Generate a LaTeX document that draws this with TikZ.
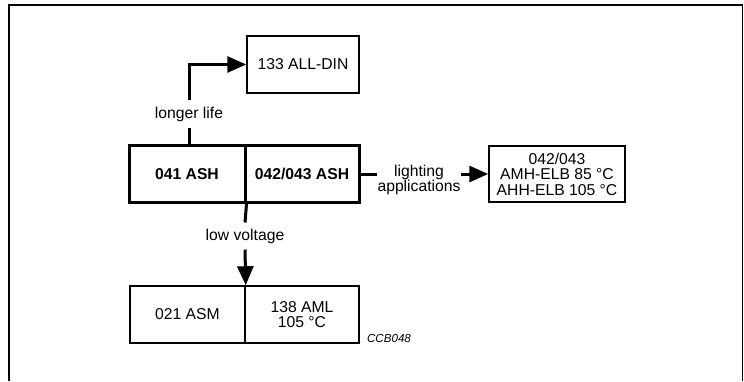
\documentclass[tikz,border=0pt]{standalone}
\usepackage{fontspec}
\setmainfont{Liberation Sans}
\usepackage{tikz}
\usetikzlibrary{arrows.meta,positioning}

\newcommand{\diagfont}{\fontsize{15.7}{15.5}\selectfont}

\tikzset{
  cell/.style={draw,line width=1.5pt,minimum height=57pt,inner sep=0pt,align=center},
  mainbox/.style={cell,line width=3pt,font=\diagfont\bfseries},
  lbl/.style={inner sep=6pt,align=center},
  link/.style={line width=3pt},
  tip/.style={link,-{Triangle[length=19pt,width=16pt]}}
}

\begin{document}
\begin{tikzpicture}[x=1pt,y=-1pt,font=\diagfont]
        \useasboundingbox (0,0) rectangle (744,381);

        % Frame round the figure
        \draw[line width=2pt] (8.5,381) -- (8.5,5);
        \draw[line width=1.5pt] (8,5) -- (742.6,5);
        \draw[line width=0.8pt] (742.6,5) -- (742.6,381);

        % Middle row: the two ASH types
        \node[mainbox,minimum width=116pt] (ash41) at (187,174) {041 ASH};
        \node[mainbox,minimum width=114pt] (ash42) at (302,174) {042/043 ASH};

        % Upper box
        \node[cell,minimum width=112pt] (alldin) at (303,64.5) {133 ALL-DIN};

        % Right box
        \node[cell,minimum width=136pt,minimum height=56pt] (elb) at (557,174)
            {042/043\\AMH-ELB 85 °C\\AHH-ELB 105 °C};

        % Lower boxes
        \node[cell,minimum width=115pt] (asm) at (187.5,314.5) {021 ASM};
        \node[cell,minimum width=114pt] (aml) at (302,314.5) {138 AML\\105 °C};

        % Labels on the connectors
        \node[lbl] (life) at (189,114) {longer life};
        \node[lbl] (volt) at (245,236) {low voltage};
        \node[lbl,inner xsep=0pt] (light) at (419,180) {lighting\\applications};
        \node[font=\fontsize{11.6}{12}\selectfont\itshape] (code) at (389,338) {CCB048};

        % Connectors
        \draw[link] (life |- ash41.north) -- (life.south);
        \draw[tip] (life.north) |- (alldin.west);
        \draw[link] (ash41.south east) -- (volt.north);
        \draw[tip] (volt.south) -- (asm.north east);
        \draw[link] (ash42.east) -- (ash42.east -| light.west);
        \draw[tip] (light.east |- elb.west) -- (elb.west);
\end{tikzpicture}
\end{document}
